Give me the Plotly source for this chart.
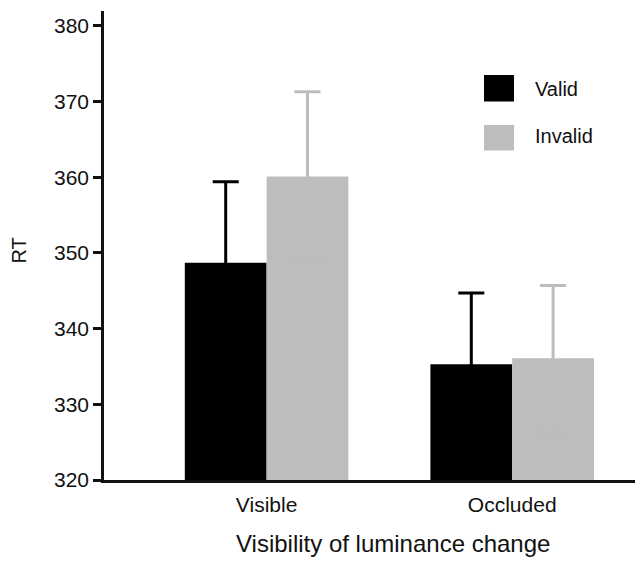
import plotly.graph_objects as go

categories = ["Visible", "Occluded"]
valid_rt = [348.7, 335.3]
valid_err = [10.7, 9.4]
invalid_rt = [360.1, 336.1]
invalid_err = [11.2, 9.6]
y_ticks = [320, 330, 340, 350, 360, 370, 380]

FONT = "Liberation Sans, Arial, sans-serif"
BLACK = "#000000"
GREY = "#bdbdbd"

fig = go.Figure()
fig.add_trace(go.Bar(
    x=categories, y=[v - 320 for v in valid_rt], base=320, name="Valid",
    marker=dict(color=BLACK, line=dict(width=0)),
    error_y=dict(type="data", array=valid_err, symmetric=True,
                 color=BLACK, thickness=3, width=13),
    showlegend=False,
))
fig.add_trace(go.Bar(
    x=categories, y=[v - 320 for v in invalid_rt], base=320, name="Invalid",
    marker=dict(color=GREY, line=dict(width=0)),
    error_y=dict(type="data", array=invalid_err, symmetric=True,
                 color=GREY, thickness=3, width=13),
    showlegend=False,
))

W, H = 635, 561
L, R, T, B = 104, 0, 11, 81
pw, ph = W - L - R, H - T - B

def px(x):
    return (x - L) / pw

def py(y):
    return (H - B - y) / ph

# manual legend
fig.add_shape(type="rect", xref="paper", yref="paper",
              x0=px(484), x1=px(514), y0=py(101.5), y1=py(75),
              fillcolor=BLACK, line=dict(width=0))
fig.add_shape(type="rect", xref="paper", yref="paper",
              x0=px(484), x1=px(514), y0=py(150.5), y1=py(125),
              fillcolor=GREY, line=dict(width=0))
fig.add_annotation(text="Valid", xref="paper", yref="paper", x=px(533), y=py(89),
                   xanchor="left", yanchor="middle", showarrow=False,
                   font=dict(family=FONT, size=20, color="#111"))
fig.add_annotation(text="Invalid", xref="paper", yref="paper", x=px(533), y=py(136),
                   xanchor="left", yanchor="middle", showarrow=False,
                   font=dict(family=FONT, size=20, color="#111"))
# x axis title
fig.add_annotation(text="Visibility of luminance change", xref="paper", yref="paper",
                   x=px(393), y=py(543), xanchor="center", yanchor="middle",
                   showarrow=False, font=dict(family=FONT, size=24, color="#111"))
# y axis title
fig.add_annotation(text="RT", xref="paper", yref="paper", x=px(18.5), y=py(251),
                   xanchor="center", yanchor="middle", textangle=-90,
                   showarrow=False, font=dict(family=FONT, size=20, color="#111"))

fig.update_layout(
    width=W, height=H,
    margin=dict(l=L, r=R, t=T, b=B),
    paper_bgcolor="white", plot_bgcolor="white",
    barmode="group", bargap=0.334, bargroupgap=0,
    font=dict(family=FONT, size=21, color="#111"),
    xaxis=dict(
        range=[-0.662, 1.5], showline=True, linecolor="#111", linewidth=2.5,
        ticks="outside", ticklen=4, tickcolor="rgba(0,0,0,0)",
        showgrid=False, zeroline=False,
        tickfont=dict(family=FONT, size=21, color="#111"),
    ),
    yaxis=dict(
        range=[320, 381.98], tickvals=y_ticks, showline=True, linecolor="#111",
        linewidth=2.5, ticks="outside", ticklen=8, tickwidth=2.5, tickcolor="#111",
        showgrid=False, zeroline=False,
        tickfont=dict(family=FONT, size=21, color="#111"),
    ),
)

fig.write_html("out.html", config={"displayModeBar": False},
               post_script="document.body.style.margin='0';document.body.style.padding='0';")
